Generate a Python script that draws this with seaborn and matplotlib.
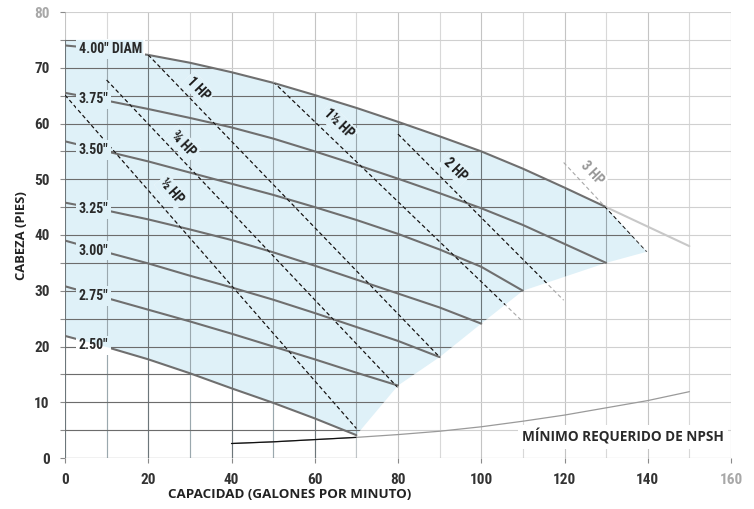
import numpy as np
import seaborn as sns
import matplotlib.pyplot as plt
from matplotlib.patches import Polygon
from matplotlib import font_manager

# impeller curves: capacity (gpm) -> head (ft)
gpm_400 = [0, 10, 20, 30, 40, 50, 60, 70, 80, 90, 100, 110, 120, 130]
head_400 = [74.0, 73.3, 72.3, 70.9, 69.2, 67.3, 65.1, 62.8, 60.3, 57.7, 55.0, 51.9, 48.5, 45.0]
gpm_400_ext = [130, 140, 150]
head_400_ext = [45.0, 41.5, 38.0]
gpm_375 = [0, 10, 20, 30, 40, 50, 60, 70, 80, 90, 100, 110, 120, 130]
head_375 = [65.5, 64.1, 62.6, 61.0, 59.3, 57.3, 55.0, 52.6, 50.1, 47.5, 44.8, 41.8, 38.4, 35.0]
gpm_350 = [0, 10, 20, 30, 40, 50, 60, 70, 80, 90, 100, 110]
head_350 = [56.8, 55.0, 53.2, 51.2, 49.2, 47.2, 45.0, 42.7, 40.2, 37.4, 34.3, 30.0]
gpm_325 = [0, 10, 20, 30, 40, 50, 60, 70, 80, 90, 100]
head_325 = [45.8, 44.4, 42.8, 41.0, 39.1, 36.9, 34.5, 32.0, 29.5, 27.0, 24.1]
gpm_300 = [0, 10, 20, 30, 40, 50, 60, 70, 80, 90]
head_300 = [39.0, 36.9, 34.9, 32.7, 30.6, 28.4, 26.0, 23.5, 21.0, 18.1]
gpm_275 = [0, 10, 20, 30, 40, 50, 60, 70, 80]
head_275 = [30.8, 28.7, 26.6, 24.5, 22.3, 20.0, 17.7, 15.3, 13.0]
gpm_250 = [0, 10, 20, 30, 40, 50, 60, 70]
head_250 = [21.9, 19.9, 17.7, 15.2, 12.5, 9.9, 7.1, 4.1]
diam_labels = ['4.00" DIAM', '3.75"', '3.50"', '3.25"', '3.00"', '2.75"', '2.50"']

# horsepower lines (end points)
hp_labels = ["½ HP", "¾ HP", "1 HP", "1½ HP", "2 HP", "3 HP"]
hp_gpm = [[0, 70], [10, 80], [20, 90], [50, 109.5], [80, 119.8], [119.8, 139.8]]
hp_head = [[65.1, 5.3], [67.8, 12.6], [72.3, 18.1], [67.5, 24.8], [58.1, 28.3], [53.0, 37.0]]
hp_label_pos = [(25.6, 47.8), (28.4, 56.4), (32.0, 66.3), (65.7, 60.0), (93.8, 51.8), (126.6, 51.1)]

# NPSH required
npsh_gpm = [40, 50, 60, 70, 80, 90, 100, 110, 120, 130, 140, 150]
npsh_ft = [2.6, 2.9, 3.3, 3.7, 4.2, 4.8, 5.6, 6.6, 7.7, 9.0, 10.3, 11.9]

fill_top = 75
label_end = 18.8

BLUE = "#dff1f8"
CURVE = "#6f6f6f"
WIDE = ["Open Sans", "DejaVu Sans"]

sns.set_theme(style="white")
names = {f.name for f in font_manager.fontManager.ttflist}
narrow = next((n for n in ["Liberation Sans Narrow", "Roboto Condensed", "Arial Narrow"] if n in names), "DejaVu Sans")
plt.rcParams["font.family"] = [narrow, "DejaVu Sans"]

fig = plt.figure(figsize=(7.54, 5.09), dpi=100)
ax = fig.add_axes([65 / 754, 51 / 509, 666 / 754, 446 / 509])
ax.set_xlim(0, 160)
ax.set_ylim(0, 80)
for s in ax.spines.values():
    s.set_visible(False)

curves = [(gpm_400, head_400), (gpm_375, head_375), (gpm_350, head_350), (gpm_325, head_325),
          (gpm_300, head_300), (gpm_275, head_275), (gpm_250, head_250)]
# run-out points of the smaller impellers, low flow to high, then the 3 HP end
lower = [(g[-1], h[-1]) for g, h in curves[1:]][::-1]
lower.append((hp_gpm[-1][1], hp_head[-1][1]))

# top edge: flat under the 4.00" label, then along the 4.00" curve
top_x = [label_end] + [g for g in gpm_400 if g > label_end]
top_y = [np.interp(label_end, gpm_400, head_400)] + [h for g, h in zip(gpm_400, head_400) if g > label_end]
upper = [(0, fill_top), (label_end, fill_top)] + list(zip(top_x, top_y))

fill_pts = upper + lower[::-1] + list(zip(gpm_250, head_250))[::-1][1:]
fill_patch = Polygon(fill_pts, closed=True, fc=BLUE, ec="none", zorder=1)
ax.add_patch(fill_patch)

dark_pts = [(0, -1), (gpm_250[-1], -1)] + lower + upper[::-1]
dark_patch = Polygon(dark_pts, closed=True, fc="none", ec="none", zorder=0)
ax.add_patch(dark_patch)

# grid: light everywhere, darker inside the working area
for x in range(0, 161, 10):
    ax.axvline(x, color="#c4c4c4" if x % 20 == 0 else "#d8d8d8", lw=0.8, zorder=0.5)
    ln = ax.axvline(x, color="#6c767a" if x % 20 == 0 else "#9aa8ae", lw=0.8, zorder=2)
    ln.set_clip_path(dark_patch)
for y in range(0, 81, 5):
    ax.axhline(y, color="#9a9a9a" if y == 0 else "#d0d0d0", lw=0.8, zorder=0.5)
    ln = ax.axhline(y, color="#6c6c6c", lw=0.8, zorder=2)
    ln.set_clip_path(dark_patch)

# impeller curves
for g, h in curves:
    sns.lineplot(x=g, y=h, ax=ax, color=CURVE, lw=1.5, zorder=3)
sns.lineplot(x=gpm_400_ext, y=head_400_ext, ax=ax, color="#c8c8c8", lw=1.5, zorder=3)

# horsepower lines: grey outside the working area, black inside
for g, h in zip(hp_gpm, hp_head):
    sns.lineplot(x=g, y=h, ax=ax, color="#a8a8a8", lw=0.8, linestyle=(0, (3.5, 2.5)), zorder=3)
    sns.lineplot(x=g, y=h, ax=ax, color="#111111", lw=0.8, linestyle=(0, (3.5, 2.5)), zorder=3.1)
    ax.lines[-1].set_clip_path(dark_patch)

# NPSH
sns.lineplot(x=npsh_gpm, y=npsh_ft, ax=ax, color="#9a9a9a", lw=0.9, zorder=3)
sns.lineplot(x=npsh_gpm, y=npsh_ft, ax=ax, color="#111111", lw=0.9, zorder=3.1)
ax.lines[-1].set_clip_path(dark_patch)


def boxed(x, y, s, color, pad=0.2, **kw):
    # white box, blue box clipped to the fill, then the text itself
    for fc, clip in (("white", False), (BLUE, True)):
        t = ax.text(x, y, s, color="none", zorder=5, fontweight="bold",
                    bbox=dict(boxstyle=f"square,pad={pad}", fc=fc, ec="none"), **kw)
        if clip:
            t.set_clip_on(True)
            t.set_clip_path(fill_patch)
    ax.text(x, y, s, color=color, zorder=6, fontweight="bold", **kw)


for (g, h), lab in zip(curves, diam_labels):
    boxed(3.3, np.interp(8.5, g, h), lab, "#2a2a2a", fontsize=10, ha="left", va="center")

for (g, h), lab, (lx, ly) in zip(zip(hp_gpm, hp_head), hp_labels, hp_label_pos):
    ang = np.degrees(np.arctan((h[1] - h[0]) / (g[1] - g[0])))
    col = "#999999" if lab == "3 HP" else "#1e1e1e"
    boxed(lx, ly, lab, col, pad=0.15, fontsize=10, ha="center", va="center",
          rotation=ang, transform_rotates_text=True, rotation_mode="anchor")

ax.text(158.4, 3.8, "MÍNIMO REQUERIDO DE NPSH", ha="right", va="center", fontsize=9.8,
        family=WIDE, fontweight="bold", color="#2a2a2a", zorder=6,
        bbox=dict(boxstyle="square,pad=0.3", fc="white", ec="none"))

# ticks
ax.set_xticks(range(0, 161, 20))
ax.set_yticks(range(0, 81, 10))
ax.set_yticks(range(5, 80, 10), minor=True)
ax.tick_params(which="both", bottom=True, left=True, length=3.6, width=0.8, color="#8a8a8a")
ax.tick_params(axis="x", pad=7, labelsize=11, labelcolor="#333333")
ax.tick_params(axis="y", pad=7.5, labelsize=11, labelcolor="#333333")
for lbl in ax.get_xticklabels() + ax.get_yticklabels():
    lbl.set_fontweight("bold")
ax.get_xticklabels()[-1].set_color("#a8a8a8")
ax.get_yticklabels()[-1].set_color("#a8a8a8")
ax.set_xlabel("")
ax.set_ylabel("")

fig.text(290 / 754, 1 - 495 / 509, "CAPACIDAD (GALONES POR MINUTO)", ha="center", va="center",
         fontsize=9.6, family=WIDE, fontweight="bold", color="#222222")
fig.text(22 / 754, 1 - 236 / 509, "CABEZA (PIES)", ha="center", va="center", rotation=90,
         fontsize=9.4, family=WIDE, fontweight="bold", color="#222222")

fig.savefig("out.png", dpi=100)
